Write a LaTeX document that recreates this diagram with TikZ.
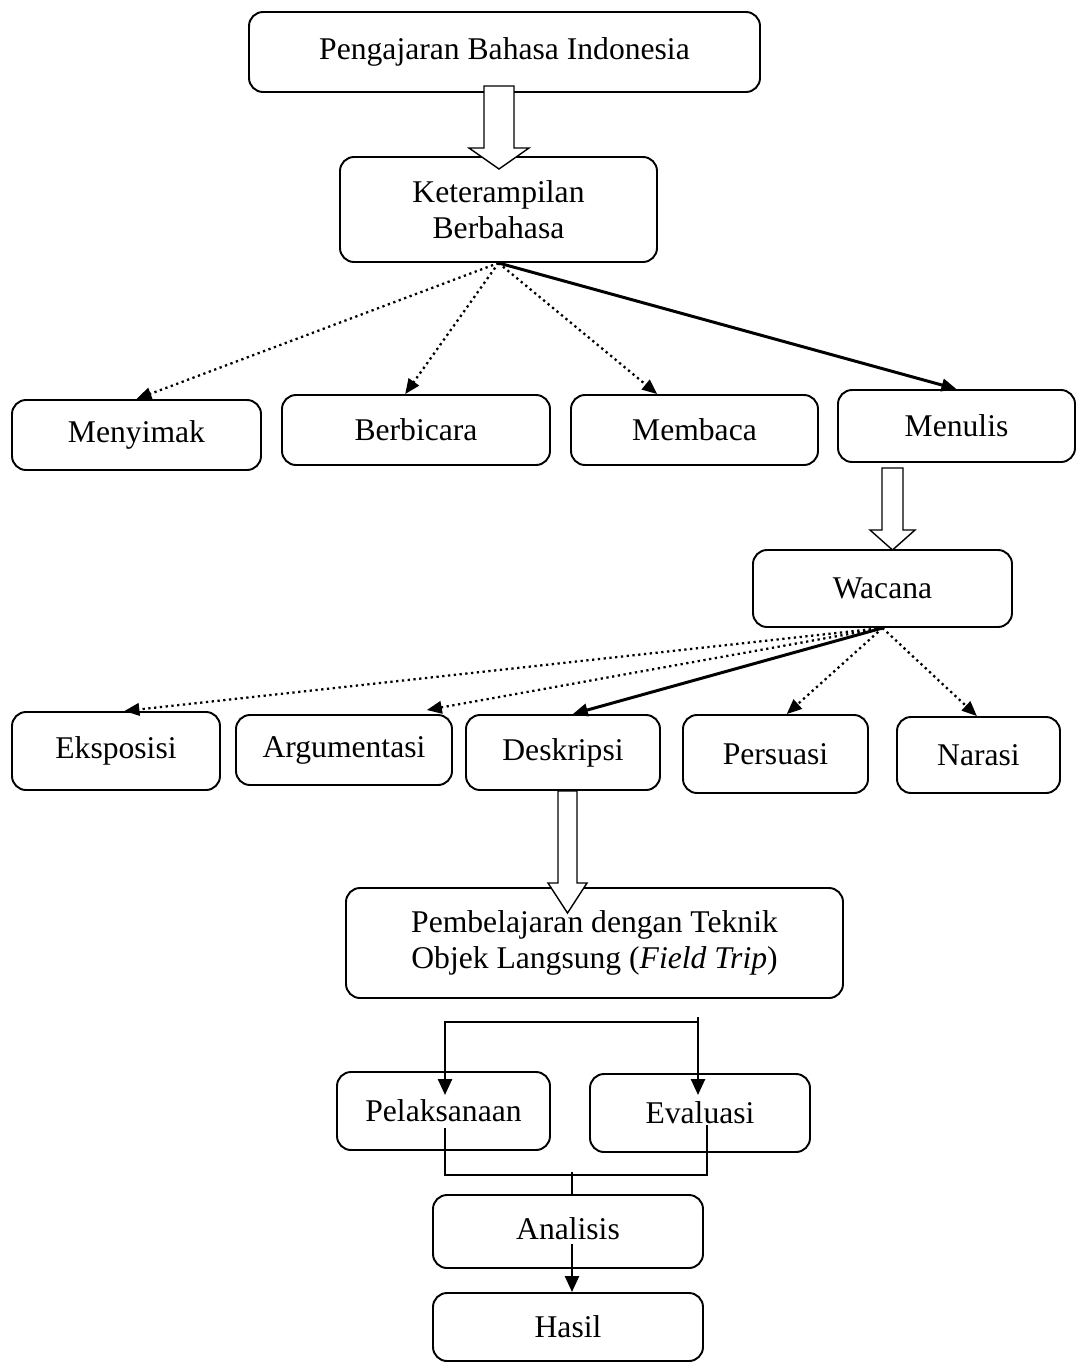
\documentclass[tikz,border=0pt]{standalone}
\usepackage{fontspec}
\setmainfont{Liberation Serif}
\usetikzlibrary{arrows.meta,calc}
\tikzset{
 stage/.style 2 args={draw,rounded corners=8pt,line width=1.1pt,minimum width=#1*0.02cm,minimum height=#2*0.02cm,inner sep=0,align=center,font=\fontsize{18}{20.5}\selectfont},
 dotlink/.style={line width=1.3pt,dotted,-{Triangle[length=3mm,width=2.5mm]}},
 solidlink/.style={line width=1.7pt,-{Triangle[length=3mm,width=2.5mm]}},
 hollow/.style={draw,fill=white,line width=.8pt,line join=miter},
 plain/.style={line width=1.4pt},
 flow/.style={line width=1.4pt,-{Triangle[length=3.2mm,width=2.8mm]}}
}
\begin{document}
\begin{tikzpicture}[x=0.02cm,y=-0.02cm]
\path[use as bounding box] (0,0) rectangle (1081,1363);
% top of the chart
\node[stage={511}{80}] (peng) at (504.5,52) {Pengajaran Bahasa Indonesia};
\node[stage={317}{105}] (ket) at (498.5,209.5) {Keterampilan\\Berbahasa};
% four skills
\node[stage={249}{70}] (simak) at (136.5,435) {Menyimak};
\node[stage={268}{70}] (bicara) at (416,430) {Berbicara};
\node[stage={247}{70}] (baca) at (694.5,430) {Membaca};
\node[stage={237}{72}] (tulis) at (956.5,426) {Menulis};
\node[stage={259}{77}] (wacana) at (882.5,588.5) {Wacana};
% kinds of discourse
\node[stage={208}{78}] (ekspo) at (116,751) {Eksposisi};
\node[stage={216}{70}] (argu) at (344,750) {Argumentasi};
\node[stage={194}{75}] (desk) at (563,752.5) {Deskripsi};
\node[stage={185}{78}] (pers) at (775.5,754) {Persuasi};
\node[stage={163}{76}] (nara) at (978.5,755) {Narasi};
% field trip
\node[stage={497}{110}] (trip) at (594.5,943) {Pembelajaran dengan Teknik\\Objek Langsung (\textit{Field Trip})};
\node[stage={213}{78}] (pelak) at (443.5,1111) {Pelaksanaan};
\node[stage={220}{78}] (eval) at (700,1113) {Evaluasi};
\node[stage={270}{73}] (anal) at (568,1231.5) {\raisebox{3pt}{Analisis}};
\node[stage={270}{68}] (hasil) at (568,1327) {Hasil};
% links from the skills box
\draw[dotlink] (ket.south) -- (simak.north);
\draw[dotlink] (ket.south) -- ($(bicara.north west)!.46!(bicara.north east)$);
\draw[dotlink] (ket.south) -- ($(baca.north west)!.35!(baca.north east)$);
\draw[solidlink] (ket.south) -- (tulis.north);
% links from wacana
\draw[dotlink] (wacana.south) -- ($(ekspo.north west)!.54!(ekspo.north east)$);
\draw[dotlink] (wacana.south) -- ($(argu.north west)!.88!(argu.north east)+(0,-4)$);
\draw[solidlink] (wacana.south) -- ($(desk.north west)!.55!(desk.north east)$);
\draw[dotlink] (wacana.south) -- ($(pers.north west)!.56!(pers.north east)$);
\draw[dotlink] (wacana.south) -- ($(nara.north west)!.49!(nara.north east)$);
% block arrows
\draw[hollow] (484,86) -- (484,148) -- (469,148) -- (499,169) -- (529,148) -- (514,148) -- (514,86) -- cycle;
\draw[hollow] (882,468) -- (882,530) -- (870,530) -- (892.5,550) -- (915,530) -- (903,530) -- (903,468) -- cycle;
\draw[hollow] (558,791) -- (558,883) -- (548,883) -- (567.5,913) -- (587,883) -- (577,883) -- (577,791) -- cycle;
% split and join
\coordinate (splitL) at (445,1022);
\coordinate (splitR) at (698,1022);
\coordinate (pelakTip) at (445,1095);
\coordinate (evalTip) at (698,1095);
\draw[plain,line cap=rect] (splitL) -- (splitR);
\draw[flow] (splitL) -- (pelakTip);
\draw[flow] ($(splitR)+(0,-5)$) -- (evalTip);
\coordinate (joinL) at (445,1128);
\coordinate (joinR) at (707,1125);
\coordinate (joinM) at (572,1175);
\draw[plain] (joinL) -- (joinL |- joinM) -- (joinR |- joinM) -- (joinR);
\draw[plain] ($(joinM)+(0,-3)$) -- (joinM |- anal.north);
\coordinate (analIn) at (572,1244);
\draw[flow] (analIn) -- (analIn |- hasil.north);
\end{tikzpicture}
\end{document}
